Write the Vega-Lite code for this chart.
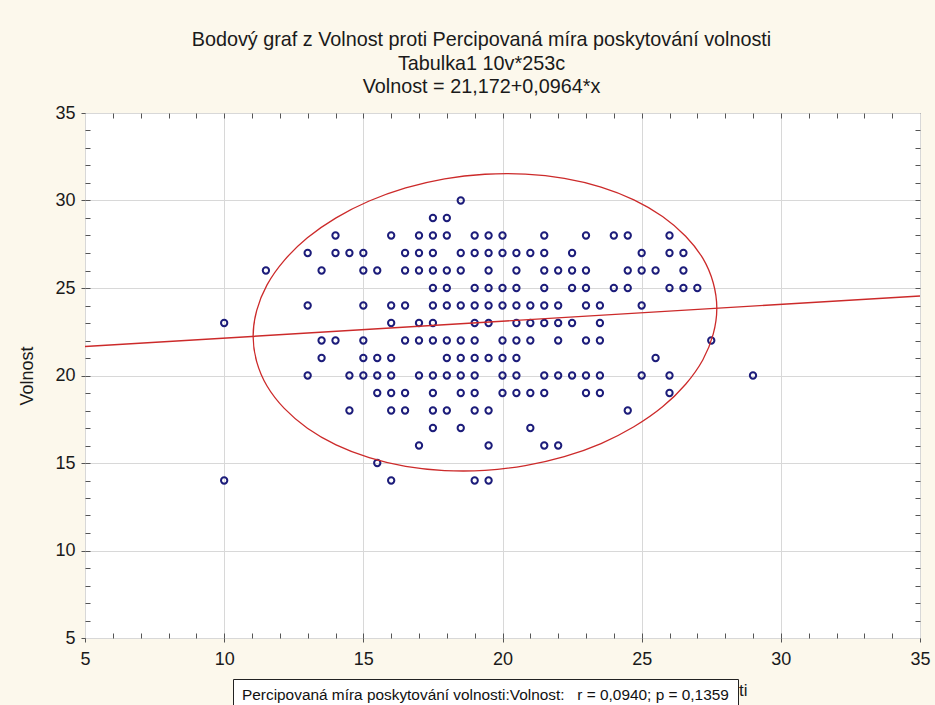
{
  "$schema": "https://vega.github.io/schema/vega-lite/v6.json",
  "width": 835,
  "height": 525,
  "autosize": {"type": "none"},
  "padding": {"left": 85, "top": 113, "right": 15, "bottom": 67},
  "background": "#FCF8EC",
  "config": {
    "font": "Liberation Sans",
    "view": {"fill": "white", "stroke": "#222222", "strokeWidth": 1},
    "axis": {
      "labelFont": "Liberation Sans",
      "titleFont": "Liberation Sans",
      "labelColor": "#1a1a1a",
      "titleColor": "#1a1a1a",
      "titleFontWeight": "normal",
      "domain": false,
      "tickColor": "#555555",
      "gridColor": "#d8d8d8",
      "labelFlush": false,
      "labelOverlap": false
    }
  },
  "title": {
    "text": [
      "Bodový graf z Volnost proti Percipovaná míra poskytování volnosti",
      "Tabulka1 10v*253c",
      "Volnost = 21,172+0,0964*x"
    ],
    "font": "Liberation Sans",
    "fontSize": 19.8,
    "fontWeight": "normal",
    "lineHeight": 23.5,
    "anchor": "middle",
    "frame": "group",
    "dx": -21,
    "offset": 7,
    "color": "#1a1a1a"
  },
  "datasets": {
    "pts": [
      {"p": 18.5, "v": 30},
      {"p": 17.5, "v": 29}, {"p": 18, "v": 29},
      {"p": 14, "v": 28}, {"p": 16, "v": 28}, {"p": 17, "v": 28}, {"p": 17.5, "v": 28}, {"p": 18, "v": 28}, {"p": 19, "v": 28}, {"p": 19.5, "v": 28}, {"p": 20, "v": 28}, {"p": 21.5, "v": 28}, {"p": 23, "v": 28}, {"p": 24, "v": 28}, {"p": 24.5, "v": 28}, {"p": 26, "v": 28},
      {"p": 13, "v": 27}, {"p": 14, "v": 27}, {"p": 14.5, "v": 27}, {"p": 15, "v": 27}, {"p": 16.5, "v": 27}, {"p": 17, "v": 27}, {"p": 17.5, "v": 27}, {"p": 18.5, "v": 27}, {"p": 19, "v": 27}, {"p": 19.5, "v": 27}, {"p": 20, "v": 27}, {"p": 20.5, "v": 27}, {"p": 21, "v": 27}, {"p": 21.5, "v": 27}, {"p": 22.5, "v": 27}, {"p": 25, "v": 27}, {"p": 26, "v": 27}, {"p": 26.5, "v": 27},
      {"p": 11.5, "v": 26}, {"p": 13.5, "v": 26}, {"p": 15, "v": 26}, {"p": 15.5, "v": 26}, {"p": 16.5, "v": 26}, {"p": 17, "v": 26}, {"p": 17.5, "v": 26}, {"p": 18, "v": 26}, {"p": 18.5, "v": 26}, {"p": 19.5, "v": 26}, {"p": 20.5, "v": 26}, {"p": 21.5, "v": 26}, {"p": 22, "v": 26}, {"p": 22.5, "v": 26}, {"p": 23, "v": 26}, {"p": 24.5, "v": 26}, {"p": 25, "v": 26}, {"p": 25.5, "v": 26}, {"p": 26.5, "v": 26},
      {"p": 17.5, "v": 25}, {"p": 18, "v": 25}, {"p": 19, "v": 25}, {"p": 19.5, "v": 25}, {"p": 20, "v": 25}, {"p": 20.5, "v": 25}, {"p": 21.5, "v": 25}, {"p": 22.5, "v": 25}, {"p": 23, "v": 25}, {"p": 24, "v": 25}, {"p": 24.5, "v": 25}, {"p": 26, "v": 25}, {"p": 26.5, "v": 25}, {"p": 27, "v": 25},
      {"p": 13, "v": 24}, {"p": 15, "v": 24}, {"p": 16, "v": 24}, {"p": 16.5, "v": 24}, {"p": 17.5, "v": 24}, {"p": 18, "v": 24}, {"p": 18.5, "v": 24}, {"p": 19, "v": 24}, {"p": 19.5, "v": 24}, {"p": 20, "v": 24}, {"p": 20.5, "v": 24}, {"p": 21, "v": 24}, {"p": 21.5, "v": 24}, {"p": 22, "v": 24}, {"p": 23, "v": 24}, {"p": 23.5, "v": 24}, {"p": 25, "v": 24},
      {"p": 10, "v": 23}, {"p": 16, "v": 23}, {"p": 17, "v": 23}, {"p": 17.5, "v": 23}, {"p": 19, "v": 23}, {"p": 19.5, "v": 23}, {"p": 20.5, "v": 23}, {"p": 21, "v": 23}, {"p": 21.5, "v": 23}, {"p": 22, "v": 23}, {"p": 22.5, "v": 23}, {"p": 23.5, "v": 23},
      {"p": 13.5, "v": 22}, {"p": 14, "v": 22}, {"p": 15, "v": 22}, {"p": 16.5, "v": 22}, {"p": 17, "v": 22}, {"p": 17.5, "v": 22}, {"p": 18, "v": 22}, {"p": 18.5, "v": 22}, {"p": 19, "v": 22}, {"p": 20, "v": 22}, {"p": 20.5, "v": 22}, {"p": 21, "v": 22}, {"p": 22, "v": 22}, {"p": 23, "v": 22}, {"p": 23.5, "v": 22}, {"p": 27.5, "v": 22},
      {"p": 13.5, "v": 21}, {"p": 15, "v": 21}, {"p": 15.5, "v": 21}, {"p": 16, "v": 21}, {"p": 18, "v": 21}, {"p": 18.5, "v": 21}, {"p": 19, "v": 21}, {"p": 19.5, "v": 21}, {"p": 20, "v": 21}, {"p": 20.5, "v": 21}, {"p": 25.5, "v": 21},
      {"p": 13, "v": 20}, {"p": 14.5, "v": 20}, {"p": 15, "v": 20}, {"p": 15.5, "v": 20}, {"p": 16, "v": 20}, {"p": 17, "v": 20}, {"p": 17.5, "v": 20}, {"p": 18, "v": 20}, {"p": 18.5, "v": 20}, {"p": 19, "v": 20}, {"p": 20, "v": 20}, {"p": 20.5, "v": 20}, {"p": 21.5, "v": 20}, {"p": 22, "v": 20}, {"p": 22.5, "v": 20}, {"p": 23, "v": 20}, {"p": 23.5, "v": 20}, {"p": 25, "v": 20}, {"p": 26, "v": 20}, {"p": 29, "v": 20},
      {"p": 15.5, "v": 19}, {"p": 16, "v": 19}, {"p": 16.5, "v": 19}, {"p": 17.5, "v": 19}, {"p": 18.5, "v": 19}, {"p": 19, "v": 19}, {"p": 20, "v": 19}, {"p": 20.5, "v": 19}, {"p": 21, "v": 19}, {"p": 21.5, "v": 19}, {"p": 23, "v": 19}, {"p": 23.5, "v": 19}, {"p": 26, "v": 19},
      {"p": 14.5, "v": 18}, {"p": 16, "v": 18}, {"p": 16.5, "v": 18}, {"p": 17.5, "v": 18}, {"p": 18, "v": 18}, {"p": 19, "v": 18}, {"p": 19.5, "v": 18}, {"p": 24.5, "v": 18},
      {"p": 17.5, "v": 17}, {"p": 18.5, "v": 17}, {"p": 21, "v": 17},
      {"p": 17, "v": 16}, {"p": 19.5, "v": 16}, {"p": 21.5, "v": 16}, {"p": 22, "v": 16},
      {"p": 15.5, "v": 15},
      {"p": 10, "v": 14}, {"p": 16, "v": 14}, {"p": 19, "v": 14}, {"p": 19.5, "v": 14}
    ],
    "ellipse": [
      {"k": 0, "p": 27.70, "v": 23.84}, {"k": 1, "p": 27.57, "v": 25.30}, {"k": 2, "p": 27.20, "v": 26.69},
      {"k": 3, "p": 26.58, "v": 27.96}, {"k": 4, "p": 25.75, "v": 29.09}, {"k": 5, "p": 24.72, "v": 30.04},
      {"k": 6, "p": 23.54, "v": 30.77}, {"k": 7, "p": 22.22, "v": 31.27}, {"k": 8, "p": 20.82, "v": 31.51},
      {"k": 9, "p": 19.37, "v": 31.50}, {"k": 10, "p": 17.92, "v": 31.24}, {"k": 11, "p": 16.52, "v": 30.72},
      {"k": 12, "p": 15.21, "v": 29.97}, {"k": 13, "p": 14.02, "v": 29.01}, {"k": 14, "p": 12.99, "v": 27.87},
      {"k": 15, "p": 12.16, "v": 26.58}, {"k": 16, "p": 11.54, "v": 25.18}, {"k": 17, "p": 11.17, "v": 23.72},
      {"k": 18, "p": 11.04, "v": 22.24}, {"k": 19, "p": 11.17, "v": 20.78}, {"k": 20, "p": 11.54, "v": 19.40},
      {"k": 21, "p": 12.16, "v": 18.12}, {"k": 22, "p": 12.99, "v": 16.99}, {"k": 23, "p": 14.02, "v": 16.04},
      {"k": 24, "p": 15.21, "v": 15.31}, {"k": 25, "p": 16.52, "v": 14.81}, {"k": 26, "p": 17.92, "v": 14.57},
      {"k": 27, "p": 19.37, "v": 14.58}, {"k": 28, "p": 20.82, "v": 14.85}, {"k": 29, "p": 22.22, "v": 15.36},
      {"k": 30, "p": 23.54, "v": 16.11}, {"k": 31, "p": 24.72, "v": 17.07}, {"k": 32, "p": 25.75, "v": 18.21},
      {"k": 33, "p": 26.58, "v": 19.50}, {"k": 34, "p": 27.20, "v": 20.90}, {"k": 35, "p": 27.57, "v": 22.36}
    ],
    "fit": [
      {"p": 5, "v": 21.654},
      {"p": 35, "v": 24.546}
    ]
  },
  "layer": [
    {
      "data": {"name": "pts"},
      "mark": {"type": "point", "shape": "circle", "filled": false, "size": 40, "strokeWidth": 2, "color": "#1c1c7a", "opacity": 1},
      "encoding": {
        "x": {
          "field": "p", "type": "quantitative",
          "scale": {"domain": [5, 35], "nice": false, "zero": false},
          "axis": {
            "values": [5, 10, 15, 20, 25, 30, 35],
            "grid": true, "tickSize": 4, "labelFontSize": 18, "labelPadding": 8,
            "title": "Percipovaná míra poskytování volnosti",
            "titleFontSize": 17, "titleX": 662, "titleY": 52,
            "titleAlign": "right", "titleBaseline": "middle"
          }
        },
        "y": {
          "field": "v", "type": "quantitative",
          "scale": {"domain": [5, 35], "nice": false, "zero": false},
          "axis": {
            "values": [5, 10, 15, 20, 25, 30, 35],
            "grid": true, "tickSize": 4, "labelFontSize": 18, "labelPadding": 6,
            "title": "Volnost", "titleFontSize": 18, "titlePadding": 18
          }
        }
      }
    },
    {
      "data": {"name": "ellipse"},
      "mark": {"type": "line", "interpolate": "cardinal-closed", "color": "#cc2a2a", "strokeWidth": 1.3},
      "encoding": {
        "x": {
          "field": "p", "type": "quantitative",
          "scale": {"domain": [5, 35], "nice": false, "zero": false},
          "axis": {
            "orient": "bottom", "offset": -5, "tickSize": 5, "labels": false, "grid": false, "title": null,
            "values": [6, 7, 8, 9, 10, 11, 12, 13, 14, 15, 16, 17, 18, 19, 20, 21, 22, 23, 24, 25, 26, 27, 28, 29, 30, 31, 32, 33, 34]
          }
        },
        "y": {
          "field": "v", "type": "quantitative",
          "scale": {"domain": [5, 35], "nice": false, "zero": false},
          "axis": {
            "orient": "left", "offset": -5, "tickSize": 5, "labels": false, "grid": false, "title": null,
            "values": [6, 7, 8, 9, 10, 11, 12, 13, 14, 15, 16, 17, 18, 19, 20, 21, 22, 23, 24, 25, 26, 27, 28, 29, 30, 31, 32, 33, 34]
          }
        },
        "order": {"field": "k", "type": "quantitative"}
      }
    },
    {
      "data": {"name": "fit"},
      "mark": {"type": "line", "strokeWidth": 1.4},
      "encoding": {
        "x": {
          "field": "p", "type": "quantitative",
          "scale": {"domain": [5, 35], "nice": false, "zero": false},
          "axis": {
            "orient": "top", "offset": -5, "tickSize": 5, "labels": false, "grid": false, "title": null,
            "values": [6, 7, 8, 9, 10, 11, 12, 13, 14, 15, 16, 17, 18, 19, 20, 21, 22, 23, 24, 25, 26, 27, 28, 29, 30, 31, 32, 33, 34]
          }
        },
        "y": {
          "field": "v", "type": "quantitative",
          "scale": {"domain": [5, 35], "nice": false, "zero": false},
          "axis": {
            "orient": "right", "offset": -5, "tickSize": 5, "labels": false, "grid": false, "title": null,
            "values": [6, 7, 8, 9, 10, 11, 12, 13, 14, 15, 16, 17, 18, 19, 20, 21, 22, 23, 24, 25, 26, 27, 28, 29, 30, 31, 32, 33, 34]
          }
        },
        "color": {
          "datum": "fit",
          "scale": {"range": ["#cc2a2a"]},
          "legend": {
            "orient": "none", "legendX": 148, "legendY": 566,
            "title": "Percipovaná míra poskytování volnosti:Volnost:\u00a0\u00a0\u00a0r = 0,0940; p = 0,1359",
            "titleFont": "Liberation Sans", "titleFontSize": 15.4, "titleFontWeight": "normal",
            "titleColor": "#111111", "titleLimit": 0, "titlePadding": 4,
            "symbolOpacity": 0, "symbolStrokeWidth": 0, "labelExpr": "''", "labelOpacity": 0,
            "padding": 9, "strokeColor": "#222222", "fillColor": "white", "cornerRadius": 0
          }
        }
      }
    }
  ],
  "resolve": {"axis": {"x": "independent", "y": "independent"}}
}
